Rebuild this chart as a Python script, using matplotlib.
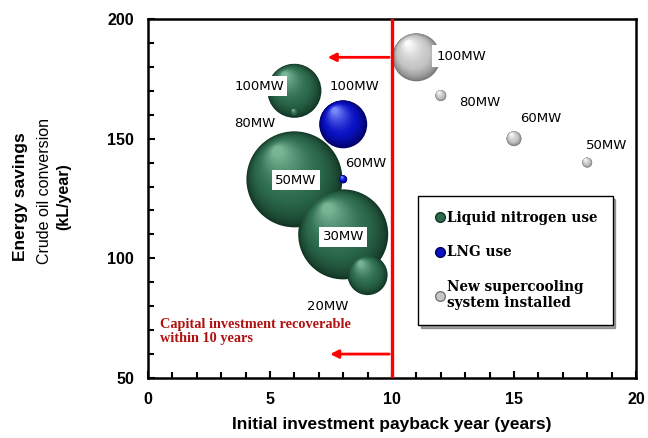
import matplotlib
matplotlib.use("Agg")
import matplotlib.pyplot as plt
import matplotlib.transforms as mtransforms
import numpy as np
from matplotlib.lines import Line2D

# bubble data: payback years, savings (kL/yr), bubble diameter (px)
ln_labels = ["100MW", "80MW", "50MW", "30MW", "20MW"]
ln_x = [6, 6, 6, 8, 9]
ln_y = [170, 161, 133, 110, 93]
ln_size = [54, 8, 96, 90, 40]

lng_labels = ["100MW", "60MW"]
lng_x = [8, 8]
lng_y = [156, 133]
lng_size = [48, 8]

new_labels = ["100MW", "80MW", "60MW", "50MW"]
new_x = [11, 12, 15, 18]
new_y = [184, 168, 150, 140]
new_size = [48, 11, 15, 10]

# label positions (x, y) for each bubble text
ln_lab_pos = [(4.55, 172), (4.36, 156.5), (6.05, 132.7), (8.0, 109), (7.38, 80)]
lng_lab_pos = [(8.48, 171.8), (8.92, 139.8)]
new_lab_pos = [(12.85, 184.5), (13.6, 165), (16.1, 158.5), (18.8, 147)]

payback_limit = 10
arrow_y = [184, 60]
arrow_end = [7.25, 7.35]

greens = ("#123524", "#2c6a4c", "#7dbb9b")
blues = ("#00005e", "#0a12c4", "#8090ff")
greys = ("#777777", "#c6c6c6", "#ffffff")


def blend(c1, c2, f):
    a = np.array(matplotlib.colors.to_rgb(c1))
    b = np.array(matplotlib.colors.to_rgb(c2))
    return tuple(a + (b - a) * f)


def sphere(ax, x, y, d, cols, z=3, n=30):
    # stack of shrinking discs shifted up-left to fake shading
    fig = ax.figure
    d_pt = d * 0.72
    for i in range(n):
        f = i / n
        if f < 0.35:
            c = blend(cols[0], cols[1], (f / 0.35) ** 0.7)
        else:
            c = blend(cols[1], cols[2], ((f - 0.35) / 0.65) ** 1.4)
        dd = d_pt * (1 - 0.92 * f)
        off = 0.3 * d_pt * f
        tr = mtransforms.offset_copy(ax.transData, fig=fig, x=-off * 0.6, y=off, units="points")
        ax.scatter([x], [y], s=dd ** 2, color=c, edgecolors="none", transform=tr, zorder=z + i * 0.01)


fig = plt.figure(figsize=(6.48, 4.38), dpi=100)
ax = fig.add_axes([0.2284, 0.137, 0.7531, 0.8196])
ax.set_xlim(0, 20)
ax.set_ylim(50, 200)

for x, y, s in zip(ln_x, ln_y, ln_size):
    sphere(ax, x, y, s, greens)
for x, y, s in zip(lng_x, lng_y, lng_size):
    sphere(ax, x, y, s, blues)
for x, y, s in zip(new_x, new_y, new_size):
    sphere(ax, x, y, s, greys)

lab_font = dict(fontsize=9.5, family="DejaVu Sans", ha="center", va="center", zorder=6)
for lab, (px, py) in zip(ln_labels, ln_lab_pos):
    ax.text(px, py, lab, bbox=dict(fc="white", ec="none", pad=2.5), **lab_font)
for lab, (px, py) in zip(lng_labels, lng_lab_pos):
    ax.text(px, py, lab, **lab_font)
for lab, (px, py) in zip(new_labels, new_lab_pos):
    ax.text(px, py, lab, bbox=dict(fc="white", ec="none", pad=3), **lab_font)

# payback threshold line and arrows
ax.plot([payback_limit, payback_limit], [50, 200], color="red", lw=2.4, zorder=5)
for ay, ae in zip(arrow_y, arrow_end):
    ax.annotate("", xy=(ae, ay), xytext=(payback_limit, ay),
                arrowprops=dict(arrowstyle="-|>", color="red", lw=2, mutation_scale=12), zorder=5)

ax.text(0.5, 75, "Capital investment recoverable\nwithin 10 years", color="#b01010",
        fontsize=10.3, family="Liberation Serif", fontweight="bold", va="top", ha="left", linespacing=1.1)

ax.set_xticks(np.arange(0, 21, 5))
ax.set_xticks(np.arange(0, 21, 1), minor=True)
ax.set_yticks(np.arange(50, 201, 50))
ax.set_yticks(np.arange(50, 201, 10), minor=True)
ax.tick_params(which="both", direction="in", width=1.5, top=False, right=False)
ax.tick_params(which="major", length=5, labelsize=11.5)
ax.tick_params(which="minor", length=4)
ax.tick_params(axis="x", pad=10)
ax.tick_params(axis="y", pad=10)
for lab in ax.get_xticklabels() + ax.get_yticklabels():
    lab.set_fontweight("bold")
    lab.set_family("Liberation Sans")
for sp in ax.spines.values():
    sp.set_linewidth(1.8)

ax.set_xlabel("Initial investment payback year (years)", fontsize=12.5, fontweight="bold",
              family="Liberation Sans", labelpad=7)

fig.text(0.031, 0.55, "Energy savings", rotation=90, fontsize=12.5, fontweight="bold",
         family="Liberation Sans", ha="center", va="center")
fig.text(0.069, 0.565, "Crude oil conversion", rotation=90, fontsize=11.5,
         family="Liberation Sans", ha="center", va="center")
fig.text(0.098, 0.55, "(kL/year)", rotation=90, fontsize=11.5, fontweight="bold",
         family="Liberation Sans", ha="center", va="center")

handles = [
    Line2D([], [], marker="o", ls="none", ms=7, mfc=greens[1], mec=greens[0]),
    Line2D([], [], marker="o", ls="none", ms=7, mfc=blues[1], mec=blues[0]),
    Line2D([], [], marker="o", ls="none", ms=7, mfc=greys[1], mec=greys[0]),
]
leg = ax.legend(handles, ["Liquid nitrogen use", "LNG use", "New supercooling\nsystem installed"],
                loc="lower left", bbox_to_anchor=(0.553, 0.148), frameon=True, fancybox=False,
                shadow=True, edgecolor="black", labelspacing=1.5, handletextpad=0.05,
                handlelength=1.0, borderpad=1.1, borderaxespad=0,
                prop=dict(family="DejaVu Serif", weight="bold", size=9.8))
leg.get_frame().set_linewidth(1.0)
leg.set_zorder(7)

fig.savefig("out.png", dpi=100)
